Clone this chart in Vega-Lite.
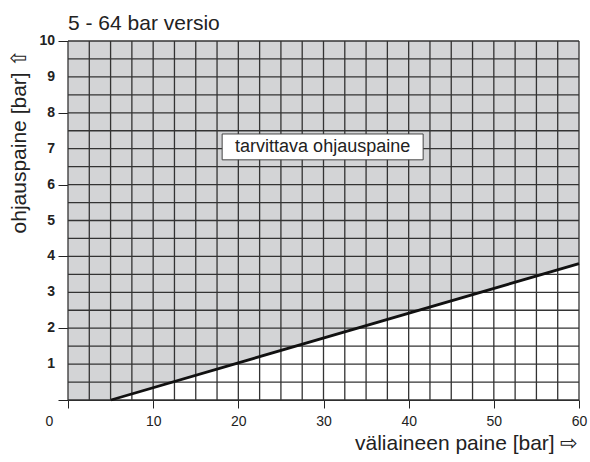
{
  "$schema": "https://vega.github.io/schema/vega-lite/v6.json",
  "width": 511,
  "height": 359,
  "autosize": {"type": "none"},
  "padding": {"left": 68, "top": 41, "right": 11, "bottom": 62},
  "background": "white",
  "config": {"view": {"stroke": null}, "font": "Liberation Sans"},
  "title": {"text": "5 - 64 bar versio", "anchor": "start", "frame": "group", "fontSize": 21, "fontWeight": "normal", "color": "#222", "baseline": "alphabetic", "offset": -17},
  "datasets": {
    "boundary": [{"x": 0, "y": 0}, {"x": 5.05, "y": 0}, {"x": 60, "y": 3.8}],
    "gridx": [{"x": 0}, {"x": 2.5}, {"x": 5}, {"x": 7.5}, {"x": 10}, {"x": 12.5}, {"x": 15}, {"x": 17.5}, {"x": 20}, {"x": 22.5}, {"x": 25}, {"x": 27.5}, {"x": 30}, {"x": 32.5}, {"x": 35}, {"x": 37.5}, {"x": 40}, {"x": 42.5}, {"x": 45}, {"x": 47.5}, {"x": 50}, {"x": 52.5}, {"x": 55}, {"x": 57.5}, {"x": 60}],
    "gridy": [{"y": 0}, {"y": 0.5}, {"y": 1}, {"y": 1.5}, {"y": 2}, {"y": 2.5}, {"y": 3}, {"y": 3.5}, {"y": 4}, {"y": 4.5}, {"y": 5}, {"y": 5.5}, {"y": 6}, {"y": 6.5}, {"y": 7}, {"y": 7.5}, {"y": 8}, {"y": 8.5}, {"y": 9}, {"y": 9.5}, {"y": 10}],
    "ylabels": [{"y": 1}, {"y": 2}, {"y": 3}, {"y": 4}, {"y": 5}, {"y": 6}, {"y": 7}, {"y": 8}, {"y": 9}, {"y": 10}],
    "box": [{"label": "tarvittava ohjauspaine"}]
  },
  "layer": [
    {
      "data": {"name": "boundary"},
      "mark": {"type": "area", "fill": "#d3d4d6", "interpolate": "linear"},
      "encoding": {
        "x": {
          "field": "x", "type": "quantitative",
          "scale": {"domain": [0, 60], "nice": false, "zero": false},
          "axis": {
            "values": [0, 10, 20, 30, 40, 50, 60],
            "title": "väliaineen paine [bar] ⇨",
            "grid": false,
            "tickSize": 8, "tickColor": "#222", "domainColor": "#222",
            "labelFontSize": 14, "labelColor": "#222", "labelFlush": false, "labelPadding": 6, "labelOverlap": false,
            "labelOffset": {"condition": {"test": "datum.value == 0", "value": -19}, "value": 0},
            "titleFontSize": 21, "titleFontWeight": "normal", "titleColor": "#222",
            "titleAnchor": "end", "titleAlign": "right", "titleX": 510, "titleY": 49, "titleBaseline": "alphabetic"
          }
        },
        "y": {
          "field": "y", "type": "quantitative",
          "scale": {"domain": [0, 10], "nice": false, "zero": false},
          "axis": {
            "values": [0, 1, 2, 3, 4, 5, 6, 7, 8, 9, 10],
            "labels": false,
            "title": "ohjauspaine [bar] ⇧",
            "grid": false,
            "tickSize": 10, "tickColor": "#222", "domainColor": "#222",
            "titleFontSize": 21, "titleFontWeight": "normal", "titleColor": "#222",
            "titleAngle": 270, "titleAlign": "right", "titleBaseline": "alphabetic", "titleX": -43, "titleY": 7
          }
        },
        "y2": {"datum": 10}
      }
    },
    {
      "data": {"name": "gridx"},
      "mark": {"type": "rule", "color": "#333", "strokeWidth": 1.3},
      "encoding": {"x": {"field": "x", "type": "quantitative"}}
    },
    {
      "data": {"name": "gridy"},
      "mark": {"type": "rule", "color": "#333", "strokeWidth": 1.3},
      "encoding": {"y": {"field": "y", "type": "quantitative"}}
    },
    {
      "data": {"name": "boundary"},
      "transform": [{"filter": "datum.x >= 5"}],
      "mark": {"type": "line", "color": "#111", "strokeWidth": 2.8},
      "encoding": {
        "x": {"field": "x", "type": "quantitative"},
        "y": {"field": "y", "type": "quantitative"}
      }
    },
    {
      "data": {"name": "box"},
      "mark": {"type": "rect", "fill": "white", "stroke": "#444", "strokeWidth": 1},
      "encoding": {
        "x": {"datum": 18.1}, "x2": {"datum": 41.7},
        "y": {"datum": 7.41}, "y2": {"datum": 6.69}
      }
    },
    {
      "data": {"name": "box"},
      "mark": {"type": "text", "fontSize": 18, "color": "#222", "align": "center", "baseline": "middle"},
      "encoding": {
        "x": {"datum": 29.9}, "y": {"datum": 7.05},
        "text": {"field": "label"}
      }
    },
    {
      "data": {"name": "ylabels"},
      "mark": {"type": "text", "fontSize": 14, "fontWeight": "bold", "color": "#222", "align": "right", "baseline": "middle", "dx": -13, "clip": false},
      "encoding": {
        "x": {"datum": 0},
        "y": {"field": "y", "type": "quantitative"},
        "text": {"field": "y", "type": "quantitative", "format": "d"}
      }
    }
  ]
}
